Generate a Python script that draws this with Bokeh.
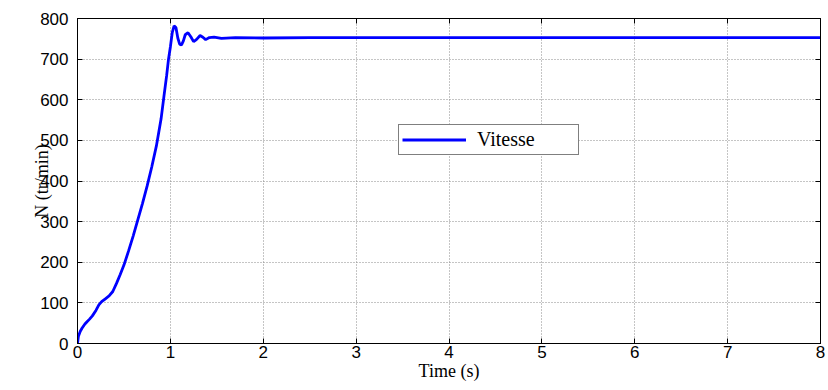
from bokeh.plotting import figure
from bokeh.models import (LinearAxis, Range1d, Legend, LegendItem, FixedTicker,
                          CustomJSTickFormatter)
from bokeh.embed import file_html
from bokeh.resources import INLINE

# Data
time_s = [0, 0.01, 0.03, 0.05, 0.08, 0.1, 0.13, 0.16, 0.2, 0.23, 0.26, 0.3, 0.34, 0.38,
          0.42, 0.46, 0.5, 0.55, 0.6, 0.65, 0.7, 0.75, 0.8, 0.85, 0.9, 0.93, 0.96, 0.98,
          1.0, 1.02, 1.04, 1.06, 1.08, 1.1, 1.12, 1.14, 1.16, 1.19, 1.22, 1.25, 1.28,
          1.32, 1.35, 1.38, 1.42, 1.47, 1.55, 1.7, 2.0, 2.5, 3, 4, 5, 6, 7, 8]
vitesse = [0, 18, 30, 38, 48, 53, 60, 68, 82, 95, 103, 110, 117, 128,
           148, 170, 193, 228, 265, 305, 345, 388, 435, 487, 553, 607, 660, 700,
           730, 765, 782, 778, 752, 737, 735, 745, 760, 765, 755, 743, 748,
           758, 754, 748, 753, 754, 751, 753, 752, 753, 753, 753, 753, 753, 753, 753]
x_ticks = [0, 1, 2, 3, 4, 5, 6, 7, 8]
y_ticks = [0, 100, 200, 300, 400, 500, 600, 700, 800]
series_name = "Vitesse"

p = figure(width=826, height=388, output_backend="svg", toolbar_location=None,
           x_range=Range1d(0, 8), y_range=Range1d(0, 800),
           min_border_left=77, min_border_right=6, min_border_top=18, min_border_bottom=45,
           x_axis_label="Time (s)", y_axis_label="N (tr/min)")
p.background_fill_color = "white"
p.border_fill_color = "white"
p.outline_line_color = "black"
p.outline_line_width = 1

tick_font = "Liberation Sans"
for ax in (p.xaxis[0], p.yaxis[0]):
    ax.major_label_text_font = tick_font
    ax.major_label_text_font_size = "17px"
    ax.major_label_text_color = "black"
    ax.major_tick_in = 5
    ax.major_tick_out = 0
    ax.minor_tick_in = 0
    ax.minor_tick_out = 0
    ax.axis_line_color = "black"
    ax.major_tick_line_color = "black"
    ax.axis_label_text_font = "Liberation Serif"
    ax.axis_label_text_font_style = "normal"
    ax.axis_label_text_font_size = "18px"
    ax.axis_label_text_color = "black"

p.xaxis.ticker = FixedTicker(ticks=x_ticks)
p.yaxis.ticker = FixedTicker(ticks=y_ticks)
p.xaxis.major_label_standoff = 2
p.yaxis.major_label_standoff = 9
p.xaxis.axis_label_standoff = 0
p.yaxis.axis_label_standoff = -15

# Mirror ticks on top / right (MATLAB style), without labels
blank = CustomJSTickFormatter(code="return '';")
top = LinearAxis(ticker=FixedTicker(ticks=x_ticks), formatter=blank,
                 major_label_standoff=0,
                 major_tick_in=5, major_tick_out=0, minor_tick_in=0, minor_tick_out=0,
                 axis_line_color="black", major_tick_line_color="black")
right = LinearAxis(ticker=FixedTicker(ticks=y_ticks), formatter=blank,
                   major_label_standoff=0,
                   major_tick_in=5, major_tick_out=0, minor_tick_in=0, minor_tick_out=0,
                   axis_line_color="black", major_tick_line_color="black")
p.add_layout(top, "above")
p.add_layout(right, "right")

p.xgrid.ticker = FixedTicker(ticks=x_ticks)
p.ygrid.ticker = FixedTicker(ticks=y_ticks)
for g in (p.xgrid[0], p.ygrid[0]):
    g.grid_line_color = "#8a8a8a"
    g.grid_line_dash = "1 2"
    g.grid_line_width = 1

r = p.line(time_s, vitesse, line_color="#0000ff", line_width=2.8)

legend = Legend(items=[LegendItem(label=series_name, renderers=[r])],
                location=(321, 188), orientation="vertical",
                glyph_width=64, glyph_height=19, label_width=98, label_height=19,
                label_standoff=11, padding=3, margin=0, spacing=0,
                border_line_color="black", border_line_width=1,
                background_fill_color="white", background_fill_alpha=1,
                label_text_font="Liberation Serif", label_text_font_size="20px",
                label_text_color="black")
p.add_layout(legend, "center")

open("out.html", "w").write(file_html(p, INLINE))
